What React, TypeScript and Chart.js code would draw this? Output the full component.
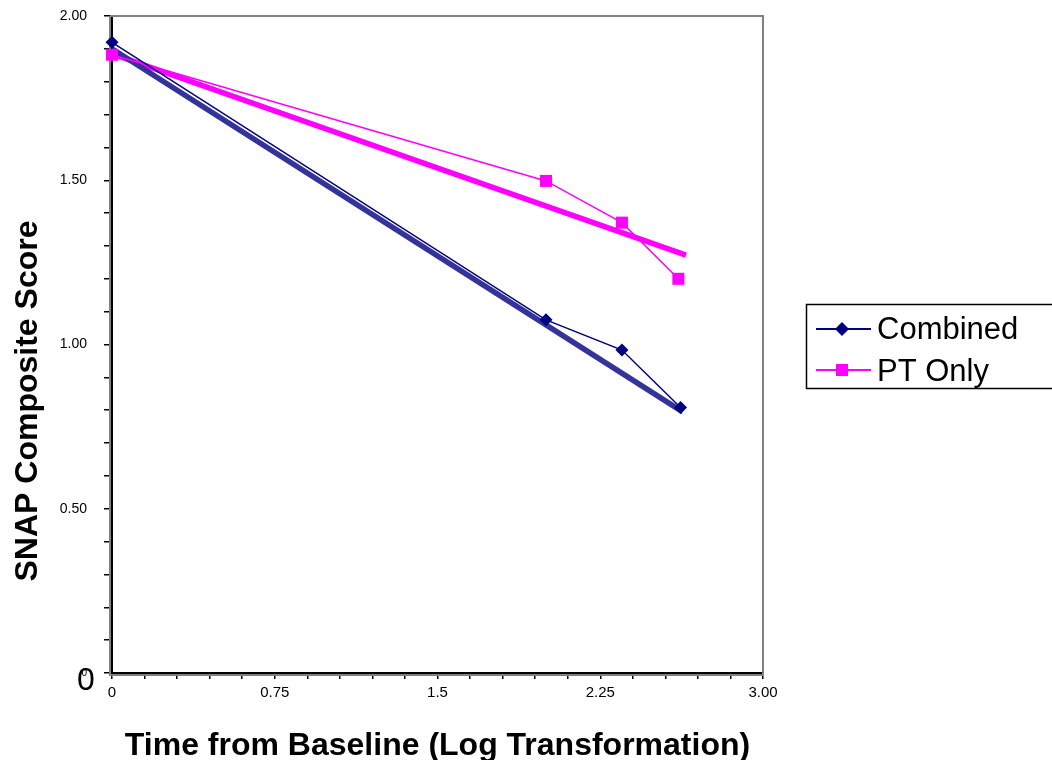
import React, { useEffect, useRef } from 'react';
import { Chart, registerables } from 'chart.js';

Chart.register(...registerables);

// ---- data ----
const combinedTimes = [0, 2.0, 2.35, 2.62];
const combinedScores = [1.92, 1.075, 0.983, 0.808];
const ptTimes = [0, 2.0, 2.35, 2.61];
const ptOnlyScores = [1.882, 1.498, 1.371, 1.2];
const combinedTrendTimes = [0, 2.63];
const combinedTrendScores = [1.9, 0.795];
const ptTrendTimes = [0, 2.645];
const ptTrendScores = [1.885, 1.272];
const xTickLabels = ['0', '0.75', '1.5', '2.25', '3.00'];
const yTickLabels = ['0', '0.50', '1.00', '1.50', '2.00'];
const seriesNames = ['Combined', 'PT Only'];
const xTitle = 'Time from Baseline (Log Transformation)';
const yTitle = 'SNAP Composite Score';
const cornerZero = '0';

const FONT = '"Liberation Sans", Arial, Helvetica, sans-serif';
const NAVY = '#000080';
const MAGENTA = '#FF00FF';
const TREND_NAVY = '#333399';

const toPoints = (xs: number[], ys: number[]) => xs.map((x, i) => ({ x, y: ys[i] }));

const decorPlugin = {
  id: 'decor',
  beforeDatasetsDraw(chart: any) {
    const { ctx, chartArea } = chart;
    ctx.save();
    ctx.strokeStyle = '#808080';
    ctx.lineWidth = 2;
    ctx.beginPath();
    ctx.moveTo(chartArea.left - 2, chartArea.top);
    ctx.lineTo(chartArea.right, chartArea.top);
    ctx.lineTo(chartArea.right, chartArea.bottom + 2);
    ctx.moveTo(chartArea.left - 2, chartArea.top);
    ctx.lineTo(chartArea.left - 2, chartArea.bottom + 2);
    ctx.lineTo(chartArea.right, chartArea.bottom + 2);
    ctx.stroke();
    ctx.restore();
  },
  afterDraw(chart: any) {
    const { ctx } = chart;
    ctx.save();
    // y title
    ctx.fillStyle = '#000';
    ctx.font = `bold 32px ${FONT}`;
    ctx.textAlign = 'center';
    ctx.textBaseline = 'alphabetic';
    ctx.translate(37, 401);
    ctx.rotate(-Math.PI / 2);
    ctx.fillText(yTitle, 0, 0);
    ctx.setTransform(1, 0, 0, 1, 0, 0);

    // big corner zero
    ctx.font = `32px ${FONT}`;
    ctx.textAlign = 'left';
    ctx.fillText(cornerZero, 77, 690);

    // legend
    const boxL = 806, boxT = 304, boxB = 388;
    ctx.strokeStyle = '#000';
    ctx.lineWidth = 1.5;
    ctx.strokeRect(boxL + 0.5, boxT + 0.5, 1052 - boxL + 10, boxB - boxT);
    const rows = [
      { y: 329, base: 339, color: NAVY, marker: 'diamond' },
      { y: 370, base: 381, color: MAGENTA, marker: 'square' },
    ];
    rows.forEach((r, i) => {
      ctx.strokeStyle = r.color;
      ctx.lineWidth = 2;
      ctx.beginPath();
      ctx.moveTo(816, r.y);
      ctx.lineTo(871, r.y);
      ctx.stroke();
      ctx.fillStyle = r.color;
      ctx.beginPath();
      if (r.marker === 'diamond') {
        ctx.moveTo(842, r.y - 7);
        ctx.lineTo(849, r.y);
        ctx.lineTo(842, r.y + 7);
        ctx.lineTo(835, r.y);
        ctx.closePath();
      } else {
        ctx.rect(836, r.y - 6, 12, 12);
      }
      ctx.fill();
      ctx.fillStyle = '#000';
      ctx.font = `31px ${FONT}`;
      ctx.textAlign = 'left';
      ctx.textBaseline = 'alphabetic';
      ctx.fillText(chart.data.datasets[i].label, 877, r.base);
    });
    ctx.restore();
  },
};

export default function App() {
  const canvasRef = useRef<HTMLCanvasElement | null>(null);

  useEffect(() => {
    const canvas = canvasRef.current;
    if (!canvas) return;
    const chart = new Chart(canvas, {
      type: 'scatter',
      data: {
        datasets: [
          {
            label: seriesNames[0],
            data: toPoints(combinedTimes, combinedScores),
            showLine: true,
            borderColor: NAVY,
            backgroundColor: NAVY,
            borderWidth: 1.5,
            pointStyle: 'rectRot',
            pointRadius: 6.5,
            pointBorderWidth: 0,
            clip: false,
            order: 1,
          },
          {
            label: seriesNames[1],
            data: toPoints(ptTimes, ptOnlyScores),
            showLine: true,
            borderColor: MAGENTA,
            backgroundColor: MAGENTA,
            borderWidth: 1.5,
            pointStyle: 'rect',
            pointRadius: 8.5,
            pointBorderWidth: 0,
            clip: false,
            order: 1,
          },
          {
            label: 'Combined trend',
            data: toPoints(combinedTrendTimes, combinedTrendScores),
            showLine: true,
            borderColor: TREND_NAVY,
            backgroundColor: TREND_NAVY,
            borderWidth: 5.5,
            pointRadius: 0,
            order: 2,
          },
          {
            label: 'PT Only trend',
            data: toPoints(ptTrendTimes, ptTrendScores),
            showLine: true,
            borderColor: MAGENTA,
            backgroundColor: MAGENTA,
            borderWidth: 5.5,
            pointRadius: 0,
            order: 2,
          },
        ],
      },
      options: {
        responsive: false,
        devicePixelRatio: 1,
        animation: false,
        layout: { padding: { left: 0, top: 16, right: 289, bottom: 0 } },
        plugins: {
          legend: { display: false },
          tooltip: { enabled: false },
          title: { display: false },
        },
        scales: {
          x: {
            type: 'linear',
            position: 'bottom',
            min: 0,
            max: 3,
            afterFit: (s: any) => {
              s.height = 87;
            },
            ticks: {
              stepSize: 0.15,
              autoSkip: false,
              maxRotation: 0,
              minRotation: 0,
              color: '#000',
              padding: 5,
              font: { family: FONT, size: 15 },
              callback: (v: any) => {
                const k = Math.round(Number(v) / 0.15);
                return k % 5 === 0 ? xTickLabels[k / 5] : '';
              },
            },
            grid: {
              drawOnChartArea: false,
              drawTicks: true,
              tickLength: 6,
              color: '#000',
              lineWidth: 1.5,
            },
            border: { display: true, color: '#000', width: 2 },
            title: {
              display: true,
              text: xTitle,
              color: '#000',
              font: { family: FONT, size: 32, weight: 'bold' },
              padding: { top: 0, bottom: -5 },
            },
          },
          y: {
            type: 'linear',
            min: 0,
            max: 2,
            afterFit: (s: any) => {
              s.width = 112;
              s.paddingTop = 8;
              s.paddingBottom = 8;
            },
            ticks: {
              stepSize: 0.1,
              autoSkip: false,
              color: '#000',
              padding: 17,
              font: (c: any) => ({ family: FONT, size: c.tick && c.tick.value === 0 ? 10 : 14 }),
              callback: (v: any) => {
                const k = Math.round(Number(v) * 10);
                return k % 5 === 0 ? yTickLabels[k / 5] : '';
              },
            },
            grid: {
              drawOnChartArea: false,
              drawTicks: true,
              tickLength: 8,
              color: '#000',
              lineWidth: 1.5,
            },
            border: { display: true, color: '#000', width: 2 },
            title: { display: false },
          },
        },
      },
      plugins: [decorPlugin],
    } as any);
    return () => chart.destroy();
  }, []);

  return (
    <div style={{ position: 'fixed', left: 0, top: 0, width: 1052, height: 760, background: '#fff' }}>
      <canvas ref={canvasRef} width={1052} height={760} style={{ display: 'block' }} />
    </div>
  );
}
